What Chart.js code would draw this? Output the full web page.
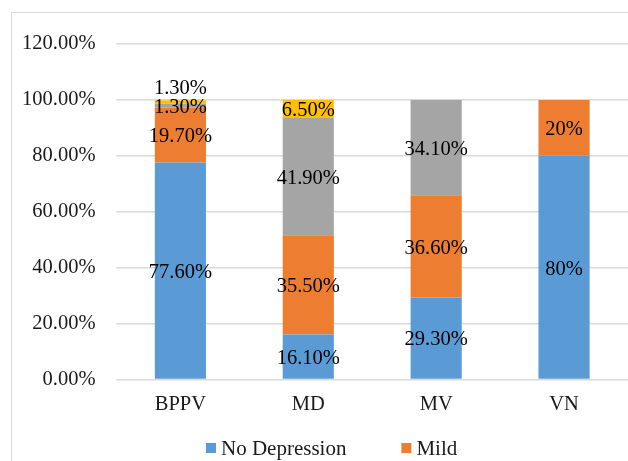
<!DOCTYPE html>
<html>
<head>
<meta charset="utf-8">
<script src="https://cdn.jsdelivr.net/npm/chart.js@4.4.0/dist/chart.umd.min.js"></script>
<style>
  html, body { margin: 0; padding: 0; background: #fff; overflow: hidden; }
  #wrap { position: relative; width: 628px; height: 461px; }
</style>
</head>
<body>
<div id="wrap"><canvas id="myChart"></canvas></div>
<script>
const categories = ["BPPV", "MD", "MV", "VN"];
const seriesNames = ["No Depression", "Mild", "Moderate", "Severe"];
const noDepression = [77.6, 16.1, 29.3, 80];
const mild = [19.7, 35.5, 36.6, 20];
const moderate = [1.3, 41.9, 34.1, 0];
const severe = [1.3, 6.5, 0, 0];
const yTicks = [0, 20, 40, 60, 80, 100, 120];
const colors = ["#5B9BD5", "#ED7D31", "#A5A5A5", "#FFC000"];
const legendCount = 2; // only the first two entries are visible in the picture

const serif = '"Liberation Serif", "Times New Roman", serif';
Chart.defaults.font.family = serif;
Chart.defaults.font.size = 20.5;
Chart.defaults.color = '#1a1a1a';

function fmt(v) {
    return Number.isInteger(v) ? v + '%' : v.toFixed(2) + '%';
}

// light gray frame around the chart (cut off on the right and bottom)
const frame = {
    id: 'frame',
    beforeDraw(chart) {
        const ctx = chart.ctx;
        ctx.save();
        ctx.strokeStyle = '#d9d9d9';
        ctx.lineWidth = 1;
        ctx.beginPath();
        ctx.moveTo(11.5, chart.height);
        ctx.lineTo(11.5, 12.5);
        ctx.lineTo(chart.width, 12.5);
        ctx.stroke();
        ctx.restore();
    }
};

// value labels in the middle of each segment, pushed up when they collide
const barLabels = {
    id: 'barLabels',
    afterDatasetsDraw(chart) {
        const ctx = chart.ctx;
        ctx.save();
        ctx.font = '20.5px ' + serif;
        ctx.fillStyle = '#000';
        ctx.textAlign = 'center';
        ctx.textBaseline = 'middle';
        categories.forEach((c, i) => {
            let lastY = Infinity;
            chart.data.datasets.forEach((ds, d) => {
                const v = ds.data[i];
                if (!v) return;
                const bar = chart.getDatasetMeta(d).data[i];
                let y = (bar.y + bar.base) / 2;
                if (y > lastY - 19) y = lastY - 19;
                ctx.fillText(fmt(v), bar.x, y + 2);
                lastY = y;
            });
        });
        ctx.restore();
    }
};

const legendBox = {
    id: 'legendBox',
    afterDraw(chart) {
        const ctx = chart.ctx;
        ctx.save();
        ctx.font = '21px ' + serif;
        ctx.textAlign = 'left';
        ctx.textBaseline = 'middle';
        let x = 206;
        const y = 449;
        chart.data.datasets.slice(0, legendCount).forEach(ds => {
            ctx.fillStyle = ds.backgroundColor;
            ctx.fillRect(x, y - 6, 10, 10);
            ctx.fillStyle = '#1a1a1a';
            ctx.fillText(ds.label, x + 15, y);
            x += 15 + ctx.measureText(ds.label).width + 55;
        });
        ctx.restore();
    }
};

const Mychart = document.getElementById('myChart');

new Chart(Mychart, {
    type: 'bar',
    data: {
        labels: categories,
        datasets: [noDepression, mild, moderate, severe].map((vals, k) => ({
            label: seriesNames[k],
            data: vals,
            backgroundColor: colors[k],
            barPercentage: 0.4,
            categoryPercentage: 1,
        })),
    },
    options: {
        responsive: true,
        maintainAspectRatio: false,
        animation: false,
        layout: {
            padding: { left: 1, right: 0, top: 44, bottom: 31 },
        },
        scales: {
            x: {
                stacked: true,
                grid: { display: false, drawTicks: false },
                border: { display: false },
                ticks: { padding: 13, color: '#1a1a1a' },
            },
            y: {
                stacked: true,
                min: 0,
                max: yTicks[yTicks.length - 1],
                afterBuildTicks: (axis) => {
                    axis.ticks = yTicks.map(v => ({ value: v }));
                },
                grid: { color: '#d9d9d9', lineWidth: 1.5, drawTicks: false },
                border: { display: false },
                ticks: {
                    padding: 21,
                    color: '#1a1a1a',
                    callback: (v) => v.toFixed(2) + '%',
                },
            },
        },
        plugins: {
            legend: { display: false },
            tooltip: { enabled: false },
        },
    },
    plugins: [frame, barLabels, legendBox],
});
</script>
</body>
</html>
